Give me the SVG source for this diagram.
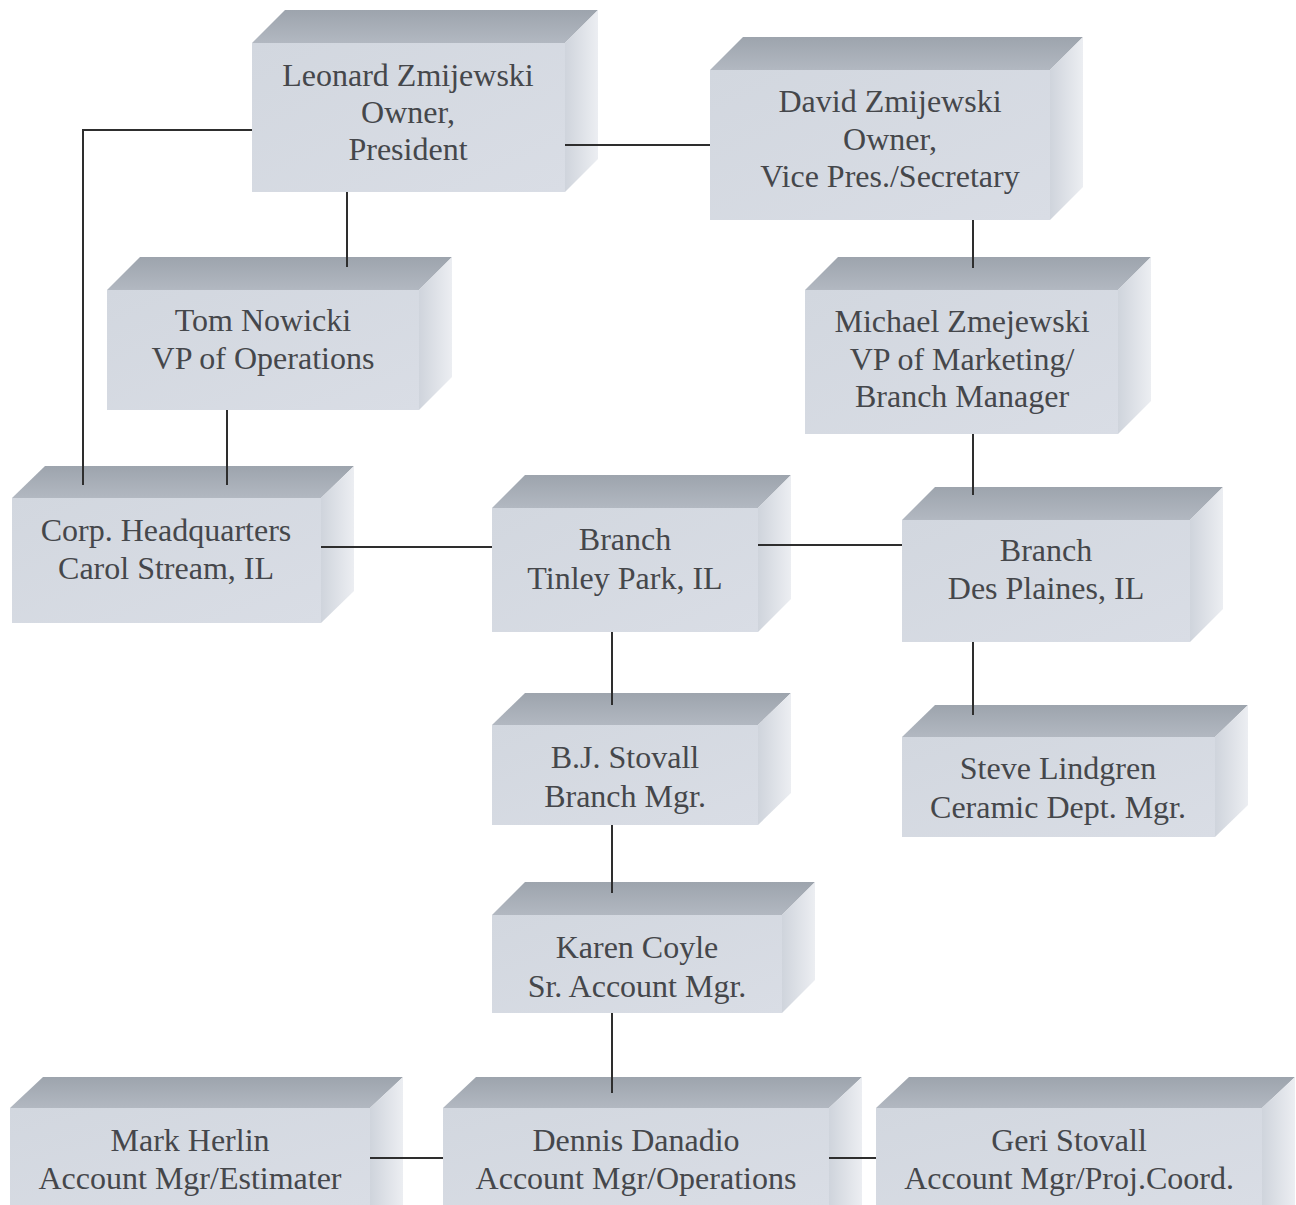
<svg xmlns="http://www.w3.org/2000/svg" width="1296" height="1205" viewBox="0 0 1296 1205">
<defs>
<linearGradient id="gTop" x1="0" y1="0" x2="0" y2="1"><stop offset="0" stop-color="#9da4ad"/><stop offset="1" stop-color="#b2b8c1"/></linearGradient>
<linearGradient id="gFront" x1="0" y1="0" x2="1" y2="1"><stop offset="0" stop-color="#d2d7df"/><stop offset="1" stop-color="#d9dde5"/></linearGradient>
<linearGradient id="gSide" x1="0" y1="0" x2="1" y2="0"><stop offset="0" stop-color="#cfd4dc"/><stop offset="1" stop-color="#eceef2"/></linearGradient>
</defs>
<style>
.top{fill:url(#gTop)}
.front{fill:url(#gFront)}
.side{fill:url(#gSide)}
text{font-family:"Liberation Serif","Times New Roman",serif;font-size:32px;fill:#45474b;text-anchor:middle}
.conn{fill:none;stroke:#2e2e2e;stroke-width:2}
</style>
<rect width="1296" height="1205" fill="#ffffff"/>

<g id="leonard">
<polygon class="top" points="252,43 285,10 598,10 565,43"/>
<polygon class="side" points="565,43 598,10 598,159 565,192"/>
<rect class="front" x="252" y="43" width="313" height="149"/>
<text x="408" y="86">Leonard Zmijewski</text>
<text x="408" y="123">Owner,</text>
<text x="408" y="160">President</text>
</g>

<g id="david">
<polygon class="top" points="710,70 743,37 1083,37 1050,70"/>
<polygon class="side" points="1050,70 1083,37 1083,187 1050,220"/>
<rect class="front" x="710" y="70" width="340" height="150"/>
<text x="890" y="112">David Zmijewski</text>
<text x="890" y="150">Owner,</text>
<text x="890" y="187">Vice Pres./Secretary</text>
</g>

<g id="tom">
<polygon class="top" points="107,290 140,257 452,257 419,290"/>
<polygon class="side" points="419,290 452,257 452,377 419,410"/>
<rect class="front" x="107" y="290" width="312" height="120"/>
<text x="263" y="331">Tom Nowicki</text>
<text x="263" y="369">VP of Operations</text>
</g>

<g id="michael">
<polygon class="top" points="805,290 838,257 1151,257 1118,290"/>
<polygon class="side" points="1118,290 1151,257 1151,401 1118,434"/>
<rect class="front" x="805" y="290" width="313" height="144"/>
<text x="962" y="332">Michael Zmejewski</text>
<text x="962" y="370">VP of Marketing/</text>
<text x="962" y="407">Branch Manager</text>
</g>

<g id="corp-hq">
<polygon class="top" points="12,498 45,466 354,466 321,498"/>
<polygon class="side" points="321,498 354,466 354,591 321,623"/>
<rect class="front" x="12" y="498" width="309" height="125"/>
<text x="166" y="541">Corp. Headquarters</text>
<text x="166" y="579">Carol Stream, IL</text>
</g>

<g id="tinley">
<polygon class="top" points="492,508 525,475 791,475 758,508"/>
<polygon class="side" points="758,508 791,475 791,599 758,632"/>
<rect class="front" x="492" y="508" width="266" height="124"/>
<text x="625" y="550">Branch</text>
<text x="625" y="589">Tinley Park, IL</text>
</g>

<g id="desplaines">
<polygon class="top" points="902,520 935,487 1223,487 1190,520"/>
<polygon class="side" points="1190,520 1223,487 1223,609 1190,642"/>
<rect class="front" x="902" y="520" width="288" height="122"/>
<text x="1046" y="561">Branch</text>
<text x="1046" y="599">Des Plaines, IL</text>
</g>

<g id="bj-stovall">
<polygon class="top" points="492,725 525,693 791,693 758,725"/>
<polygon class="side" points="758,725 791,693 791,793 758,825"/>
<rect class="front" x="492" y="725" width="266" height="100"/>
<text x="625" y="768">B.J. Stovall</text>
<text x="625" y="807">Branch Mgr.</text>
</g>

<g id="steve">
<polygon class="top" points="902,737 935,705 1248,705 1215,737"/>
<polygon class="side" points="1215,737 1248,705 1248,805 1215,837"/>
<rect class="front" x="902" y="737" width="313" height="100"/>
<text x="1058" y="779">Steve Lindgren</text>
<text x="1058" y="818">Ceramic Dept. Mgr.</text>
</g>

<g id="karen">
<polygon class="top" points="492,915 525,882 815,882 782,915"/>
<polygon class="side" points="782,915 815,882 815,980 782,1013"/>
<rect class="front" x="492" y="915" width="290" height="98"/>
<text x="637" y="958">Karen Coyle</text>
<text x="637" y="997">Sr. Account Mgr.</text>
</g>

<g id="mark">
<polygon class="top" points="10,1108 43,1077 403,1077 370,1108"/>
<polygon class="side" points="370,1108 403,1077 403,1205 370,1205"/>
<rect class="front" x="10" y="1108" width="360" height="97"/>
<text x="190" y="1151">Mark Herlin</text>
<text x="190" y="1189">Account Mgr/Estimater</text>
</g>

<g id="dennis">
<polygon class="top" points="443,1108 476,1077 862,1077 829,1108"/>
<polygon class="side" points="829,1108 862,1077 862,1205 829,1205"/>
<rect class="front" x="443" y="1108" width="386" height="97"/>
<text x="636" y="1151">Dennis Danadio</text>
<text x="636" y="1189">Account Mgr/Operations</text>
</g>

<g id="geri">
<polygon class="top" points="876,1108 909,1077 1295,1077 1262,1108"/>
<polygon class="side" points="1262,1108 1295,1077 1295,1205 1262,1205"/>
<rect class="front" x="876" y="1108" width="386" height="97"/>
<text x="1069" y="1151">Geri Stovall</text>
<text x="1069" y="1189">Account Mgr/Proj.Coord.</text>
</g>

<g id="connectors">
<path class="conn" d="M252,130 H83 V485"/>
<path class="conn" d="M565,145 H710"/>
<path class="conn" d="M347,192 V267"/>
<path class="conn" d="M227,410 V485"/>
<path class="conn" d="M973,220 V268"/>
<path class="conn" d="M973,434 V495"/>
<path class="conn" d="M321,547 H492"/>
<path class="conn" d="M758,545 H902"/>
<path class="conn" d="M612,632 V705"/>
<path class="conn" d="M973,642 V715"/>
<path class="conn" d="M612,825 V893"/>
<path class="conn" d="M612,1013 V1093"/>
<path class="conn" d="M370,1158 H443"/>
<path class="conn" d="M829,1158 H876"/>
</g>
</svg>
